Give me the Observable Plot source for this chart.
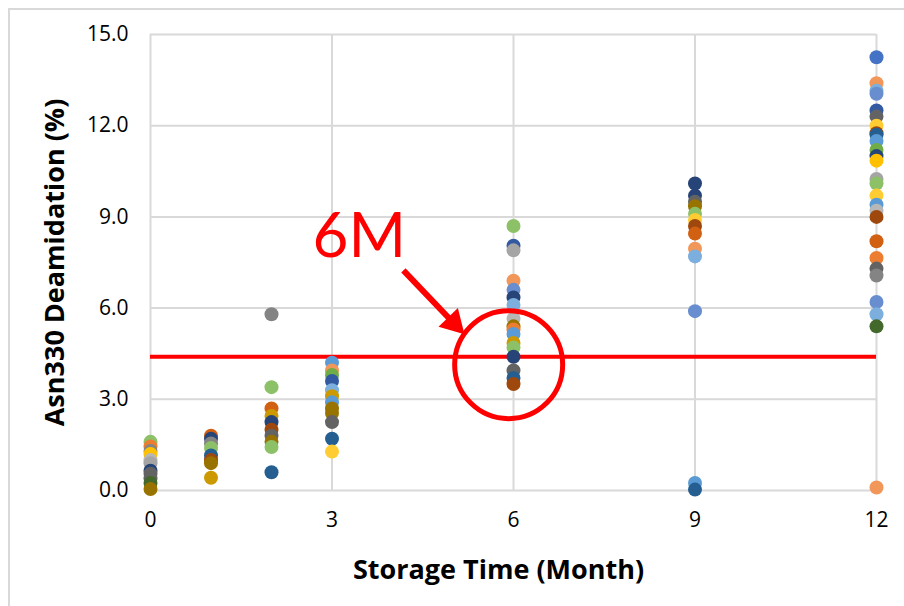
<!DOCTYPE html>
<html>
<head>
<meta charset="utf-8">
<script src="https://cdn.jsdelivr.net/npm/d3@7"></script>
<script src="https://cdn.jsdelivr.net/npm/@observablehq/plot@0.6"></script>
<style>
  html, body { margin: 0; padding: 0; background: #fff; overflow: hidden; }
  #wrap { position: relative; width: 904px; height: 606px; }
  #border { position: absolute; left: 8px; top: 8px; width: 900px; height: 620px; border: 2px solid #d9d9d9; box-sizing: border-box; pointer-events: none; }
  #chart { position: absolute; left: 0; top: 0; }
</style>
</head>
<body>
<div id="wrap"><div id="border"></div><div id="chart"></div></div>
<script>
// Storage time columns (months)
const months = [0, 1, 2, 3, 6, 9, 12];
const xTicks = [0, 3, 6, 9, 12];
const yTicks = [0, 3, 6, 9, 12, 15];

// Asn330 deamidation (%) observed at each time point, with series colour index
const m0  = [1.6, 1.45, 1.3, 1.2, 1.0, 0.9, 0.65, 0.55, 0.4, 0.25, 0.05];
const m0c = [17, 1, 20, 3, 14, 2, 6, 8, 8, 11, 9];
const m1  = [1.8, 1.7, 1.55, 1.4, 1.15, 1.0, 0.9, 0.42];
const m1c = [19, 6, 20, 17, 10, 7, 9, 21];
const m2  = [5.8, 3.4, 2.7, 2.45, 2.25, 2.0, 1.8, 1.6, 1.43, 0.6];
const m2c = [20, 17, 19, 21, 6, 7, 8, 9, 17, 10];
const m3  = [4.2, 3.95, 3.8, 3.6, 3.3, 3.1, 2.9, 2.7, 2.55, 2.25, 1.7, 1.28];
const m3c = [4, 13, 5, 18, 16, 21, 4, 9, 9, 8, 10, 15];
const m6  = [8.7, 8.05, 7.9, 6.9, 6.6, 6.35, 6.1, 5.65, 5.4, 5.3, 5.15, 4.85, 4.7, 4.4, 3.95, 3.7, 3.5];
const m6c = [17, 18, 2, 13, 12, 6, 16, 14, 9, 1, 4, 21, 17, 6, 8, 10, 7];
const m9  = [10.1, 9.7, 9.5, 9.35, 9.1, 8.9, 8.7, 8.45, 7.95, 7.7, 5.9, 0.25, 0.03];
const m9c = [6, 6, 8, 9, 17, 15, 7, 19, 13, 16, 12, 4, 10];
const m12 = [14.25, 13.4, 13.15, 13.05, 12.5, 12.3, 12.0, 11.75, 11.7, 11.5, 11.2, 11.0, 10.85, 10.25, 10.1, 9.7, 9.4, 9.2, 9.0, 8.2, 7.65, 7.3, 7.07, 6.2, 5.8, 5.4, 0.1];
const m12c = [0, 13, 16, 12, 18, 8, 15, 7, 10, 4, 5, 6, 3, 2, 17, 15, 4, 14, 7, 19, 1, 8, 20, 12, 16, 11, 13];

// Threshold and annotation values
const threshold = 4.4;
const labelText = "6M";

// Office palette
const palette = ["#4472C4", "#ED7D31", "#A5A5A5", "#FFC000", "#5B9BD5", "#70AD47",
  "#264478", "#9E480E", "#636363", "#997300", "#255E91", "#43682B",
  "#698ED0", "#F1975A", "#B7B7B7", "#FFCD33", "#7CAFDD", "#8CC168",
  "#335AA1", "#D26012", "#848484", "#CC9A00"];

const cols = [m0, m1, m2, m3, m6, m9, m12];
const colc = [m0c, m1c, m2c, m3c, m6c, m9c, m12c];
const points = [];
cols.forEach((arr, i) => arr.forEach((v, j) => points.push({month: months[i], value: v, color: palette[colc[i][j]]})));

const red = "#ff0000";
const font = "'Open Sans', Lato, sans-serif";
const chart = Plot.plot({
  width: 904,
  height: 606,
  marginLeft: 150,
  marginRight: 28,
  marginTop: 34,
  marginBottom: 116,
  style: {fontFamily: font, fontSize: "21px", color: "#000", background: "transparent"},
  x: {domain: [0, 12], label: null},
  y: {domain: [0, 15], label: null},
  color: {type: "identity"},
  marks: [
    Plot.gridX(xTicks, {stroke: "#d9d9d9", strokeOpacity: 1, strokeWidth: 2}),
    Plot.gridY(yTicks, {stroke: "#d9d9d9", strokeOpacity: 1, strokeWidth: 2}),
    Plot.axisX({ticks: xTicks, tickSize: 0, tickPadding: 22, label: null, fontSize: 21, fill: "#000"}),
    Plot.axisY({ticks: yTicks, tickSize: 0, tickPadding: 22, tickFormat: d3.format(".1f"), label: null, fontSize: 21, fill: "#000"}),
    Plot.ruleY([threshold], {stroke: red, strokeWidth: 4}),
    Plot.dot(points, {x: "month", y: "value", fill: "color", r: 7}),
    Plot.dot([{x: 5.92, y: 4.14}], {x: "x", y: "y", r: 54, stroke: red, strokeWidth: 5, fill: "none"}),
    Plot.link([{x1: 4.18, y1: 7.24, x2: 5.01, y2: 5.51}], {x1: "x1", y1: "y1", x2: "x2", y2: "y2", stroke: red, strokeWidth: 6}),
    Plot.dot([{x: 5.01, y: 5.51}], {x: "x", y: "y", symbol: "triangle", r: 10, fill: red, rotate: 136}),
    Plot.text([labelText], {x: 3.45, y: 8.34, text: d => d, fill: red, fontSize: 62, fontFamily: "Lato, sans-serif"}),
    Plot.text(["Asn330 Deamidation (%)"], {frameAnchor: "left", rotate: -90, textAnchor: "middle", dx: -95, text: d => d, fontSize: 27, fontWeight: "bold", fill: "#000", fontFamily: font}),
    Plot.text(["Storage Time (Month)"], {frameAnchor: "bottom", dx: -15, dy: 88, text: d => d, fontSize: 27, fontWeight: "bold", fill: "#000", fontFamily: font})
  ]
});
document.getElementById("chart").appendChild(chart);
</script>
</body>
</html>
